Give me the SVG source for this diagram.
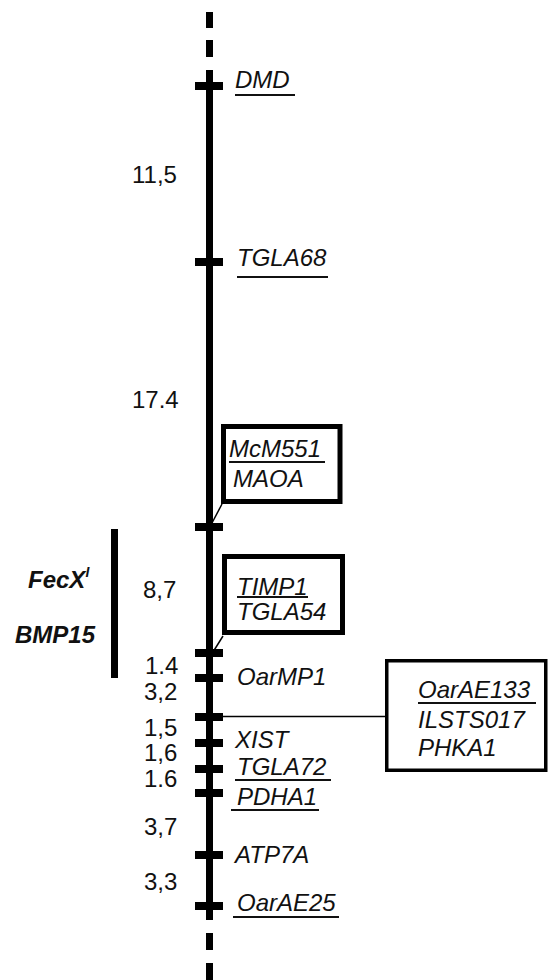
<svg xmlns="http://www.w3.org/2000/svg" width="548" height="980" viewBox="0 0 548 980">
<style>
text{font-family:"Liberation Sans",Arial,sans-serif;font-size:24px;fill:#111}
.it{font-style:italic}
.b{font-weight:bold;font-style:italic}
.ul{stroke:#111;stroke-width:2}
.box{fill:#fff;stroke:#000;stroke-width:5}
.thin{stroke:#000;stroke-width:1.5;fill:none}
.tick{fill:#000}
</style>
<rect width="548" height="980" fill="#fff"/>
<g id="connectors">
  <line class="thin" x1="222" y1="504" x2="212" y2="523"/>
  <line class="thin" x1="223" y1="636" x2="213" y2="652"/>
  <line class="thin" x1="212" y1="716.5" x2="387" y2="716.5"/>
</g>
<g id="chromosome">
  <rect x="206" y="12" width="7" height="16" fill="#000"/>
  <rect x="206" y="40" width="7" height="17" fill="#000"/>
  <rect x="206" y="70" width="7" height="850" fill="#000"/>
  <rect x="206" y="933" width="7" height="17" fill="#000"/>
  <rect x="206" y="963" width="7" height="17" fill="#000"/>
</g>
<g id="DMD">
  <rect class="tick" x="195" y="82" width="28" height="8"/>
  <text class="it" x="235" y="88">DMD</text>
  <line class="ul" x1="235" y1="95" x2="295" y2="95"/>
</g>
<g id="TGLA68">
  <rect class="tick" x="195" y="258" width="28" height="8"/>
  <text class="it" x="237" y="266">TGLA68</text>
  <line class="ul" x1="237" y1="277" x2="328" y2="277"/>
</g>
<g id="box1">
  <rect class="tick" x="195" y="523" width="28" height="8"/>
  <rect class="box" x="223.5" y="426.5" width="116.5" height="75"/>
  <text class="it" x="229" y="457">McM551</text>
  <line class="ul" x1="229" y1="462" x2="325" y2="462"/>
  <text class="it" x="233" y="487">MAOA</text>
</g>
<g id="box2">
  <rect class="tick" x="195" y="649" width="28" height="8"/>
  <rect class="box" x="224.5" y="556.5" width="118" height="76"/>
  <text class="it" x="237" y="595">TIMP1</text>
  <line class="ul" x1="237" y1="597" x2="308" y2="597"/>
  <text class="it" x="237" y="620">TGLA54</text>
</g>
<g id="OarMP1">
  <rect class="tick" x="195" y="674" width="28" height="8"/>
  <text class="it" x="237" y="685">OarMP1</text>
</g>
<g id="box3">
  <rect class="tick" x="195" y="713" width="28" height="8"/>
  <rect x="386.75" y="660.75" width="159" height="109.5" fill="#fff" stroke="#000" stroke-width="3.5"/>
  <text class="it" x="418" y="698">OarAE133</text>
  <line class="ul" x1="418" y1="703" x2="536" y2="703"/>
  <text class="it" x="418" y="728">ILSTS017</text>
  <text class="it" x="418" y="756">PHKA1</text>
</g>
<g id="XIST">
  <rect class="tick" x="195" y="739" width="28" height="8"/>
  <text class="it" x="235" y="748">XIST</text>
</g>
<g id="TGLA72">
  <rect class="tick" x="195" y="765" width="28" height="8"/>
  <text class="it" x="237" y="775">TGLA72</text>
  <line class="ul" x1="235" y1="780" x2="331" y2="780"/>
</g>
<g id="PDHA1">
  <rect class="tick" x="195" y="789" width="28" height="8"/>
  <text class="it" x="237" y="805">PDHA1</text>
  <line class="ul" x1="231" y1="810" x2="319" y2="810"/>
</g>
<g id="ATP7A">
  <rect class="tick" x="195" y="851" width="28" height="8"/>
  <text class="it" x="235" y="863">ATP7A</text>
</g>
<g id="OarAE25">
  <rect class="tick" x="195" y="902" width="28" height="8"/>
  <text class="it" x="237" y="911">OarAE25</text>
  <line class="ul" x1="233" y1="917" x2="339" y2="917"/>
</g>
<g id="distances">
  <text x="132" y="183">11,5</text>
  <text x="132" y="408">17.4</text>
  <text x="143" y="598">8,7</text>
  <text x="145" y="674">1.4</text>
  <text x="144" y="700">3,2</text>
  <text x="144" y="736">1,5</text>
  <text x="144" y="761">1,6</text>
  <text x="144" y="787">1.6</text>
  <text x="144" y="835">3,7</text>
  <text x="144" y="890">3,3</text>
</g>
<g id="FecX">
  <rect x="111" y="529" width="7" height="149" fill="#000"/>
  <text class="b" x="28" y="588">FecX<tspan font-size="14" dy="-11">I</tspan></text>
  <text class="b" x="15" y="643">BMP15</text>
</g>
</svg>
